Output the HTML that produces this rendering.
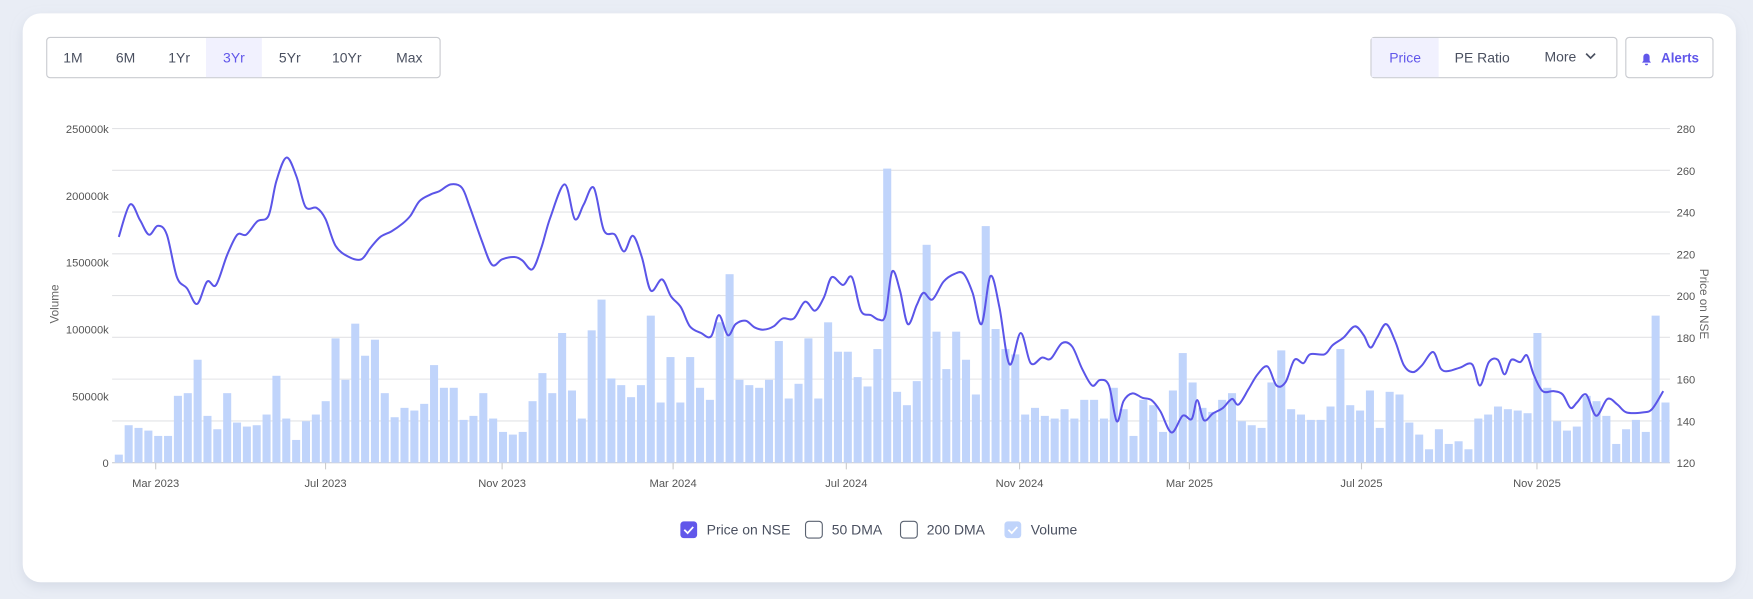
<!DOCTYPE html>
<html><head><meta charset="utf-8"><style>
html,body{margin:0;padding:0;background:#e9edf5;width:1753px;height:599px;overflow:hidden}
svg{display:block}
text{font-family:"Liberation Sans",sans-serif}
</style></head><body>
<svg id="s" width="1753" height="599" viewBox="0 0 1568 536" xmlns="http://www.w3.org/2000/svg">
<defs><filter id="sh" x="-5%" y="-5%" width="110%" height="115%"><feDropShadow dx="0" dy="4" stdDeviation="5" flood-color="#c8cfdc" flood-opacity="0.6"/></filter></defs>
<rect x="0" y="0" width="1568" height="536" fill="#e9edf5"/>
<rect x="20" y="12" width="1533" height="509" rx="16" fill="#fff" filter="url(#sh)"/>
<rect x="41.5" y="33.5" width="352" height="36" rx="3" fill="#fff" stroke="#c9cbd0"/>
<rect x="184" y="34" width="50" height="35" fill="#f1f1fe"/>
<g font-size="12.5" fill="#4a5060" text-anchor="middle">
<text x="65" y="56">1M</text><text x="112" y="56">6M</text><text x="160" y="56">1Yr</text>
<text x="209" y="56" fill="#6157ea">3Yr</text><text x="259" y="56">5Yr</text><text x="310" y="56">10Yr</text><text x="366" y="56">Max</text>
</g>
<rect x="1226.5" y="33.5" width="220" height="36" rx="3" fill="#fff" stroke="#c9cbd0"/>
<rect x="1227" y="34" width="60" height="35" fill="#f1f1fe"/>
<g font-size="12.5" fill="#4a5060" text-anchor="middle">
<text x="1257" y="56" fill="#6157ea">Price</text><text x="1326" y="56">PE Ratio</text><text x="1396" y="55">More</text>
</g>
<path d="M1419 48 l4 4 l4 -4" stroke="#4a5060" stroke-width="1.5" fill="none"/>
<rect x="1454.5" y="33.5" width="78" height="36" rx="3" fill="#fff" stroke="#c9cbd0"/>
<path d="M1469 56 h8 l-1.2 -1.6 v-3.6 a2.8 2.8 0 0 0 -5.6 0 v3.6 z M1471.6 57 a1.4 1.4 0 0 0 2.8 0 z" fill="#6157ea"/>
<text x="1486" y="56" font-size="12" font-weight="bold" fill="#6157ea">Alerts</text>
<g id="grid" stroke="#e2e3e6" stroke-width="1"></g>
<g font-size="10" fill="#555" text-anchor="end">
<text x="97" y="119">250000k</text><text x="97" y="178.8">200000k</text><text x="97" y="238.6">150000k</text><text x="97" y="298.4">100000k</text><text x="97" y="358.2">50000k</text><text x="97" y="418">0</text>
</g>
<g font-size="10" fill="#555">
<text x="1500" y="119">280</text><text x="1500" y="156.4">260</text><text x="1500" y="193.8">240</text><text x="1500" y="231.1">220</text><text x="1500" y="268.5">200</text><text x="1500" y="305.9">180</text><text x="1500" y="343.3">160</text><text x="1500" y="380.6">140</text><text x="1500" y="418">120</text>
</g>
<text transform="translate(52,272) rotate(-90)" font-size="10.5" fill="#666" text-anchor="middle">Volume</text>
<text transform="translate(1521,272) rotate(90)" font-size="10.5" fill="#666" text-anchor="middle">Price on NSE</text>
<g id="bars" fill="#c0d4fb"></g>
<path id="line" fill="none" stroke="#5b55e8" stroke-width="1.8" stroke-linejoin="round"/>
<g font-size="10" fill="#555" text-anchor="middle">
<text x="139" y="436">Mar 2023</text><text x="291" y="436">Jul 2023</text><text x="449" y="436">Nov 2023</text><text x="602" y="436">Mar 2024</text><text x="757" y="436">Jul 2024</text><text x="912" y="436">Nov 2024</text><text x="1064" y="436">Mar 2025</text><text x="1218" y="436">Jul 2025</text><text x="1375" y="436">Nov 2025</text>
</g>
<g id="ticks" stroke="#ccc"></g>
<rect x="608.5" y="466.5" width="15" height="15" rx="3" fill="#6157ea"/>
<path d="M612 474 l3 3 l5 -5.5" stroke="#fff" stroke-width="1.6" fill="none"/>
<rect x="720.5" y="466.5" width="15" height="15" rx="3" fill="#fff" stroke="#5a6270"/>
<rect x="805.5" y="466.5" width="15" height="15" rx="3" fill="#fff" stroke="#5a6270"/>
<rect x="898.5" y="466.5" width="15" height="15" rx="3" fill="#c0d4fb"/>
<path d="M902 474 l3 3 l5 -5.5" stroke="#fff" stroke-width="1.6" fill="none"/>
<g font-size="12.5" fill="#4a5060">
<text x="632" y="478.5">Price on NSE</text><text x="744" y="478.5">50 DMA</text><text x="829" y="478.5">200 DMA</text><text x="922" y="478.5">Volume</text>
</g>
</svg>
<script>
var NS="http://www.w3.org/2000/svg";
function el(t,a,p){var e=document.createElementNS(NS,t);for(var k in a)e.setAttribute(k,a[k]);document.getElementById(p).appendChild(e);return e;}
for(var i=0;i<9;i++){var y=115+i*299/8;el("line",{x1:100,x2:1494,y1:y,y2:y},"grid");}
el("line",{x1:100,x2:1494,y1:414,y2:414,stroke:"#cfd2d8"},"grid");
[139,291,449,602,757,912,1064,1218,1375].forEach(function(x){el("line",{x1:x,x2:x,y1:414,y2:420},"ticks");});
var v=[6,28,26,24,20,20,50,52,77,35,25,52,30,27,28,36,65,33,17,31,36,46,93,62,104,80,92,52,34,41,39,44,73,56,56,32,35,52,33,23,21,23,46,67,52,97,54,33,99,122,63,58,49,58,110,45,79,45,79,56,47,105,141,62,58,56,62,91,48,59,93,48,105,83,83,64,57,85,220,53,43,61,163,98,70,98,77,51,177,100,85,81,36,41,35,33,40,33,47,47,33,56,40,20,47,43,23,54,82,60,41,38,47,52,31,28,26,60,84,40,36,32,32,42,85,43,39,54,26,53,51,30,21,10,25,14,16,10,33,36,42,40,39,37,97,56,31,24,27,50,46,35,14,25,32,23,110,45];
var n=v.length,x0=106,x1=1490,sp=(x1-x0)/(n-1);
for(var i=0;i<n;i++){var hh=v[i]*299/250;el("rect",{x:(x0+i*sp-3.6).toFixed(2),y:(414-hh).toFixed(2),width:7.2,height:hh.toFixed(2)},"bars");}
var p=[[106,212],[116,183],[125,197],[133,210],[141,202],[149,210],[158,248],[167,258],[176,272],[185,252],[193,255],[203,228],[212,210],[220,210],[230,198],[240,193],[247,162],[256,141],[265,158],[273,185],[283,186],[291,196],[300,220],[312,230],[323,232],[331,222],[340,212],[350,207],[360,200],[367,193],[375,180],[385,174],[393,171],[403,165],[413,168],[420,185],[431,216],[440,237],[449,232],[460,230],[467,233],[476,241],[484,222],[492,195],[505,165],[514,196],[522,183],[531,168],[540,206],[550,210],[558,225],[566,211],[574,230],[582,260],[592,250],[600,265],[609,275],[617,292],[627,298],[636,301],[643,282],[651,300],[658,290],[667,287],[675,293],[683,295],[692,292],[700,285],[710,285],[720,270],[729,278],[737,266],[744,248],[754,255],[762,248],[770,278],[779,282],[786,286],[792,282],[798,243],[805,260],[812,290],[820,273],[826,262],[834,268],[844,252],[854,245],[862,245],[870,262],[878,290],[886,247],[894,275],[903,326],[913,298],[922,325],[932,320],[940,321],[950,307],[959,310],[968,330],[977,345],[984,340],[992,345],[999,377],[1005,359],[1013,352],[1022,356],[1030,358],[1038,368],[1048,387],[1058,372],[1066,375],[1071,358],[1077,376],[1085,370],[1094,365],[1102,357],[1108,362],[1117,348],[1125,335],[1134,328],[1142,345],[1150,342],[1158,322],[1166,325],[1172,317],[1185,317],[1192,309],[1202,302],[1212,292],[1220,300],[1226,311],[1232,302],[1240,290],[1248,305],[1256,327],[1264,333],[1272,327],[1282,315],[1289,330],[1296,332],[1306,329],[1317,326],[1324,345],[1332,324],[1340,322],[1346,335],[1352,322],[1360,324],[1366,318],[1372,335],[1380,350],[1390,350],[1398,353],[1405,365],[1411,360],[1419,353],[1428,372],[1438,357],[1447,362],[1455,369],[1470,369],[1478,366],[1488,350]];
var d="M"+p[0][0]+" "+p[0][1];
for(var i=0;i<p.length-1;i++){var a=p[Math.max(i-1,0)],b=p[i],c=p[i+1],e=p[Math.min(i+2,p.length-1)];
d+=" C"+(b[0]+(c[0]-a[0])/6).toFixed(1)+" "+(b[1]+(c[1]-a[1])/6).toFixed(1)+" "+(c[0]-(e[0]-b[0])/6).toFixed(1)+" "+(c[1]-(e[1]-b[1])/6).toFixed(1)+" "+c[0]+" "+c[1];}
document.getElementById("line").setAttribute("d",d);
</script>
</body></html>
